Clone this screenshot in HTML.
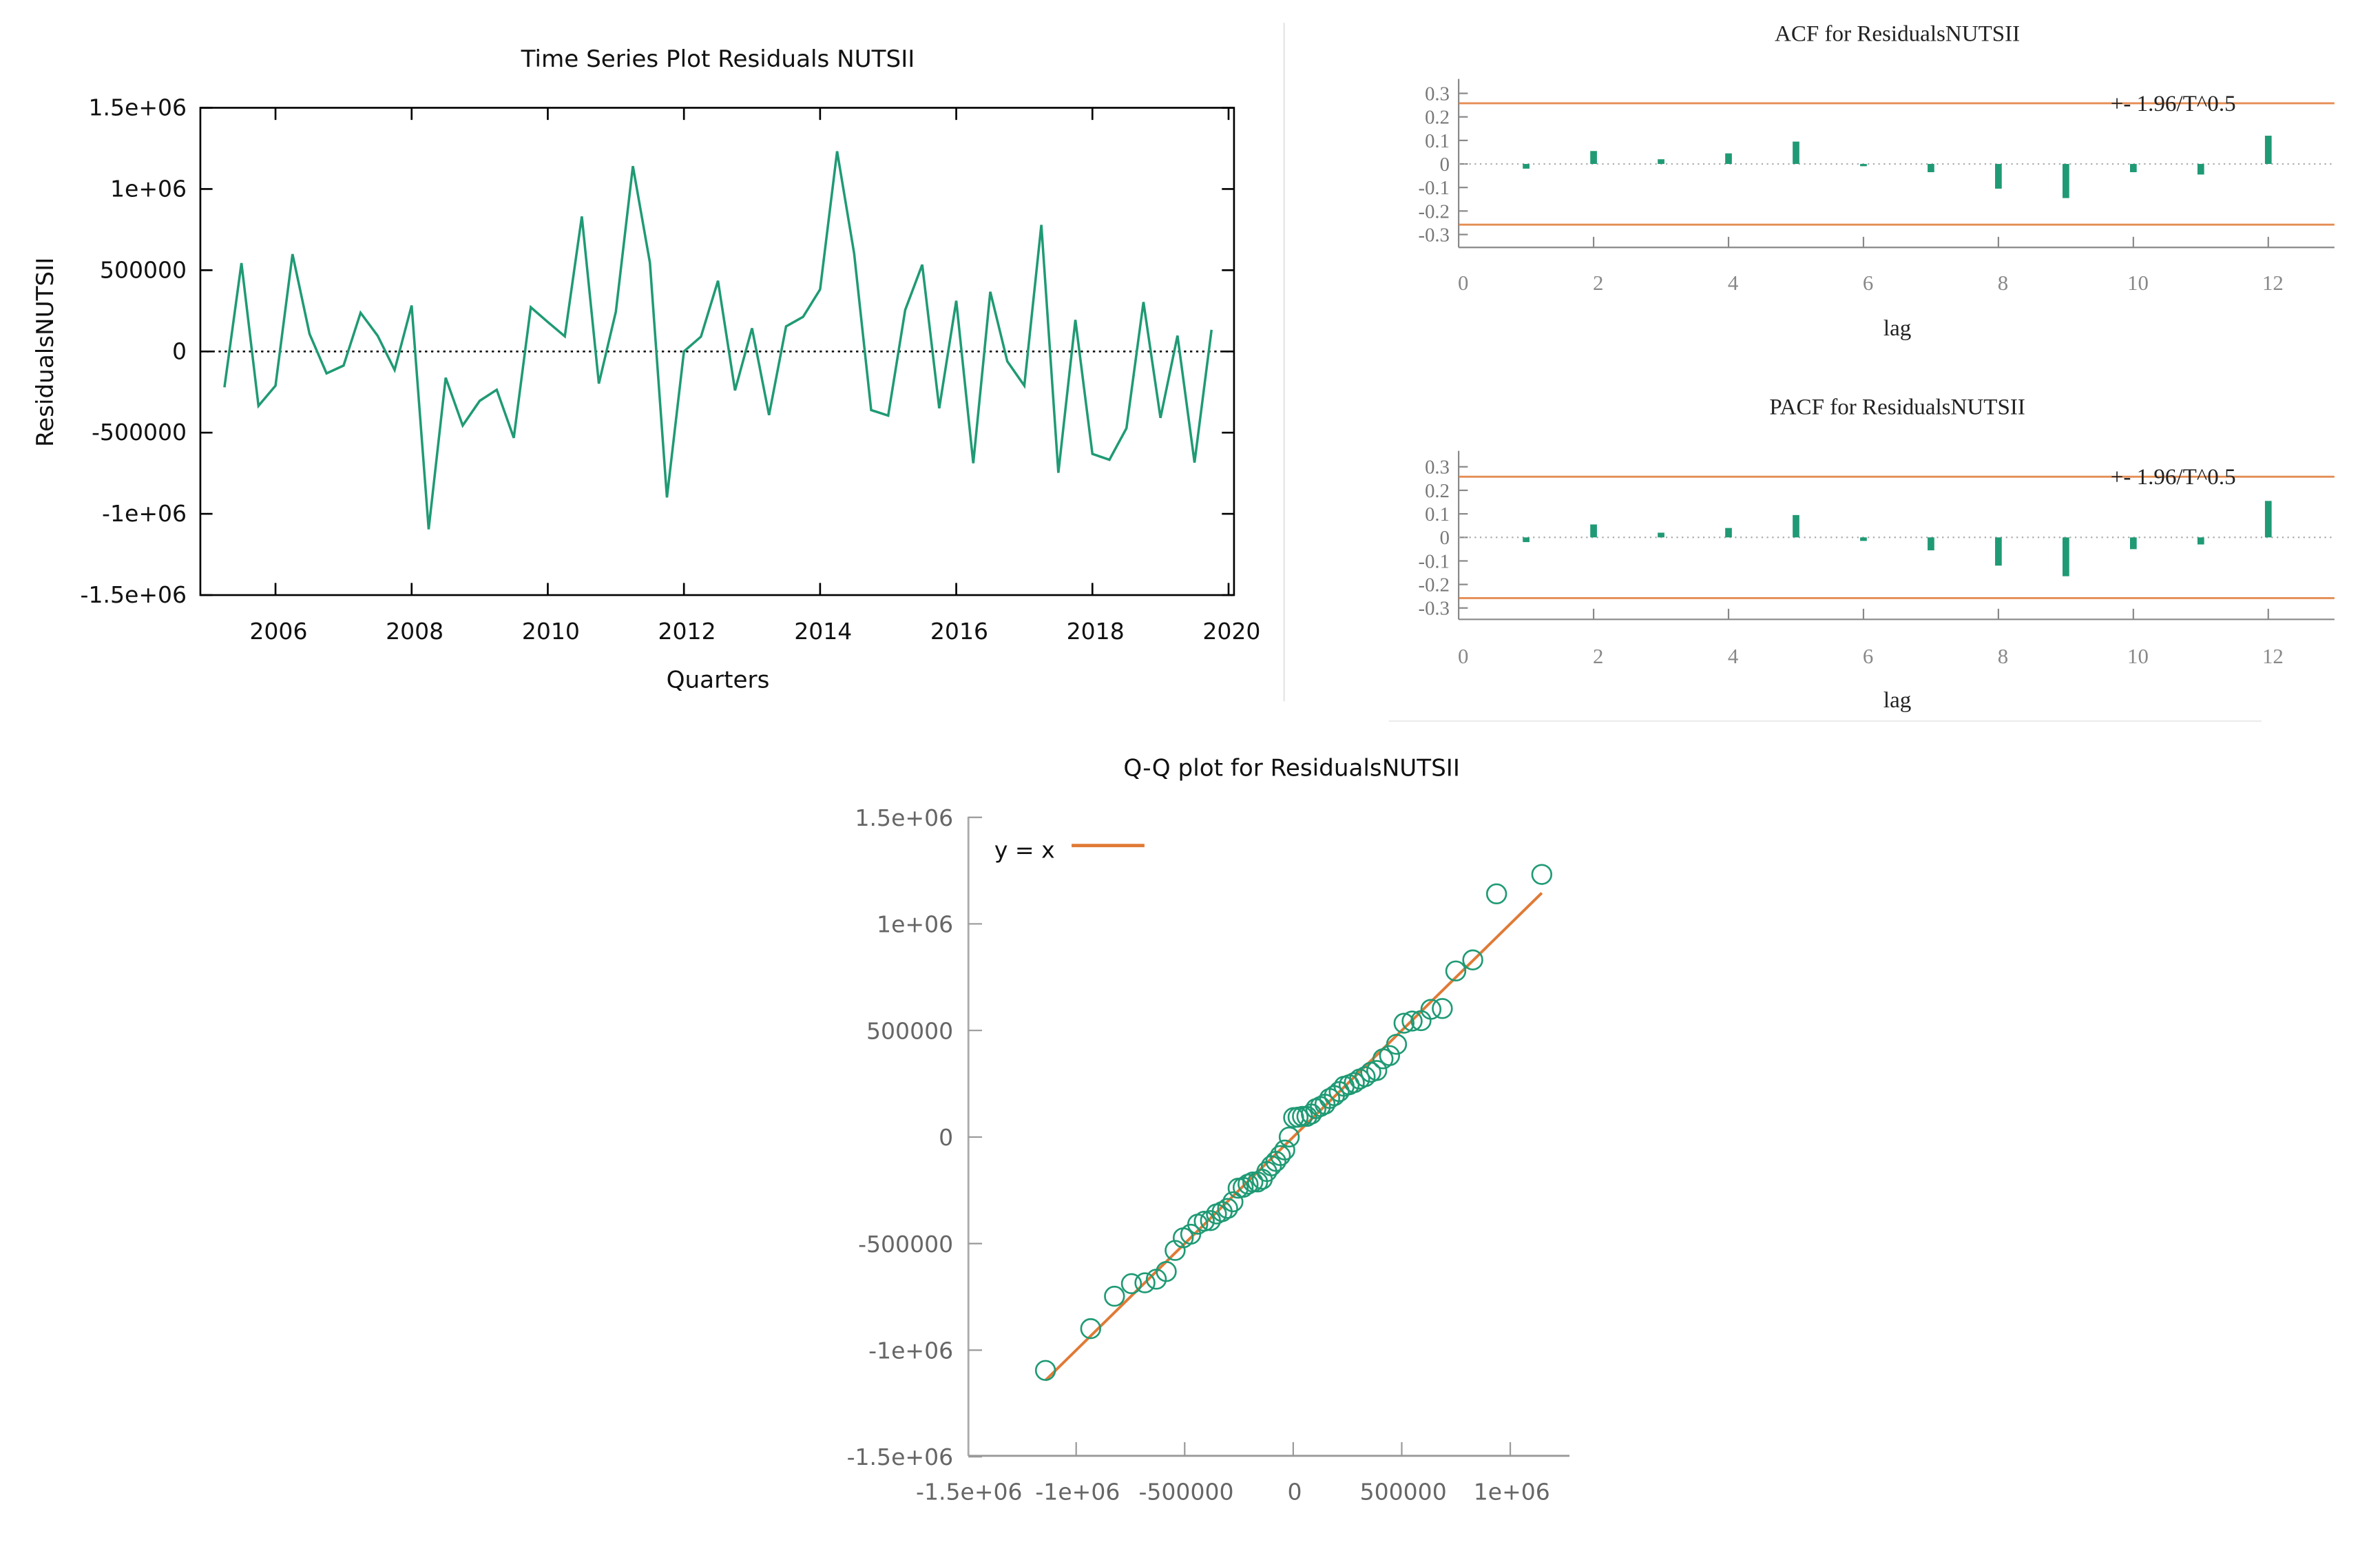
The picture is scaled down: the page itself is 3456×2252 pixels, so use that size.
<!DOCTYPE html>
<html><head><meta charset="utf-8"><style>
html,body{margin:0;padding:0;background:#fff;}
svg{display:block;}
.sans{font-family:"DejaVu Sans","Liberation Sans",sans-serif;}
.serif{font-family:"Liberation Serif","DejaVu Serif",serif;}
</style></head><body>
<svg id="root" width="3456" height="2252" viewBox="0 0 1568 1021.7" preserveAspectRatio="none" xmlns="http://www.w3.org/2000/svg">
<line x1="846" y1="15" x2="846" y2="462" stroke="#e4e4e4" stroke-width="1"/>
<line x1="915" y1="475" x2="1490" y2="475" stroke="#ececec" stroke-width="1"/>
<g id="ts"></g>
<g id="acf"></g>
<g id="pacf"></g>
<g id="qq"></g>
</svg>
<script>
const residuals = [-221000,544000,-335000,-211000,599000,108000,-135000,-87000,238000,97000,-114000,283000,-1095000,-162000,-456000,-304000,-236000,-532000,272000,181000,93000,831000,-198000,245000,1141000,546000,-899000,0,91000,435000,-240000,143000,-392000,154000,213000,382000,1232000,603000,-361000,-395000,255000,534000,-350000,312000,-688000,367000,-61000,-211000,779000,-747000,194000,-631000,-667000,-473000,304000,-409000,97000,-684000,133000];
const startYear = 2005.25;
const yearTicks = [2006,2008,2010,2012,2014,2016,2018,2020];
const valueTicks = [1500000,1000000,500000,0,-500000,-1000000,-1500000];
const valueTickLabels = ["1.5e+06","1e+06","500000","0","-500000","-1e+06","-1.5e+06"];
const lags = [1,2,3,4,5,6,7,8,9,10,11,12];
const acfValues = [-0.02,0.055,0.02,0.045,0.095,-0.005,-0.035,-0.105,-0.145,-0.035,-0.045,0.12];
const pacfValues = [-0.02,0.055,0.02,0.04,0.095,-0.015,-0.055,-0.12,-0.165,-0.05,-0.03,0.155];
const acfBand = 0.258;
const corrTicks = [0.3,0.2,0.1,0,-0.1,-0.2,-0.3];
const corrTickLabels = ["0.3","0.2","0.1","0","-0.1","-0.2","-0.3"];
const lagTicks = [0,2,4,6,8,10,12];
const qqXTicks = [-1500000,-1000000,-500000,0,500000,1000000];
const qqXTickLabels = ["-1.5e+06","-1e+06","-500000","0","500000","1e+06"];

const NS="http://www.w3.org/2000/svg";
function mk(parent,tag,attrs,text){const e=document.createElementNS(NS,tag);for(const k in attrs)e.setAttribute(k,attrs[k]);if(text!==undefined)e.textContent=text;parent.appendChild(e);return e;}
const GREEN="#1f9a74", ORANGE="#e07a36";

// ---------- Time series ----------
(function(){
const g=document.getElementById('ts');
const x=v=>181.5+(v-2006)*44.85;
const y=v=>231.5-v/1500000*160.5;
const L=132,R=813,T=71,B=392;
let t=mk(g,'text',{x:473,y:44,'text-anchor':'middle','font-size':15.5,class:'sans',fill:'#111'},'Time Series Plot Residuals NUTSII');

t=mk(g,'text',{x:35,y:232,'text-anchor':'middle','font-size':15.5,class:'sans',fill:'#111',transform:'rotate(-90 35 232)'},'ResidualsNUTSII');

t=mk(g,'text',{x:473,y:453,'text-anchor':'middle','font-size':15.5,class:'sans',fill:'#111'},'Quarters');

let r=mk(g,'rect',{x:L,y:T,width:R-L,height:B-T,fill:'none',stroke:'#000','stroke-width':1.2});

let z=mk(g,'line',{x1:L,x2:R,y1:y(0),y2:y(0),stroke:'#000','stroke-width':1.2,'stroke-dasharray':'1.5,2.5'});

valueTicks.forEach((v,i)=>{
  mk(g,'line',{x1:L,x2:L+8,y1:y(v),y2:y(v),stroke:'#000','stroke-width':1.2});
  mk(g,'line',{x1:R-8,x2:R,y1:y(v),y2:y(v),stroke:'#000','stroke-width':1.2});
  const tl=mk(g,'text',{x:123,y:y(v)+5,'text-anchor':'end','font-size':15,class:'sans',fill:'#111'},valueTickLabels[i]);
  
});
yearTicks.forEach(v=>{
  mk(g,'line',{x1:x(v),x2:x(v),y1:T,y2:T+8,stroke:'#000','stroke-width':1.2});
  mk(g,'line',{x1:x(v),x2:x(v),y1:B-8,y2:B,stroke:'#000','stroke-width':1.2});
  const tl=mk(g,'text',{x:x(v)+2,y:421,'text-anchor':'middle','font-size':15,class:'sans',fill:'#111'},String(v));
  
});
const pts=residuals.map((v,i)=>x(startYear+i*0.25).toFixed(2)+','+y(v).toFixed(2)).join(' ');
const pl=mk(g,'polyline',{points:pts,fill:'none',stroke:GREEN,'stroke-width':1.6,'stroke-linejoin':'miter'});

})();

// ---------- ACF / PACF ----------
function corrPlot(id,vals,zero,axisTop,axisBottom,title,titleY,tickLabelY,lagLabelY,lblPlus){
const g=document.getElementById(id);
const x=l=>961+l*44.45;
const y=v=>zero-v/0.1*15.5;
let t=mk(g,'text',{x:1250,y:titleY,'text-anchor':'middle','font-size':15,class:'serif',fill:'#222'},title);

mk(g,'line',{x1:961,x2:961,y1:axisTop,y2:axisBottom,stroke:'#888','stroke-width':1});
mk(g,'line',{x1:961,x2:1538,y1:axisBottom,y2:axisBottom,stroke:'#888','stroke-width':1});
corrTicks.forEach((v,i)=>{
  mk(g,'line',{x1:961,x2:967,y1:y(v),y2:y(v),stroke:'#888','stroke-width':1});
  const tl=mk(g,'text',{x:955,y:y(v)+4.5,'text-anchor':'end','font-size':13,class:'serif',fill:'#777'},corrTickLabels[i]);
  
});
lagTicks.forEach(l=>{
  if(l>0)mk(g,'line',{x1:x(l),x2:x(l),y1:axisBottom-7,y2:axisBottom,stroke:'#888','stroke-width':1});
  const tl=mk(g,'text',{x:x(l)+3,y:tickLabelY,'text-anchor':'middle','font-size':14,class:'serif',fill:'#888'},String(l));
  
});
t=mk(g,'text',{x:1250,y:lagLabelY,'text-anchor':'middle','font-size':15,class:'serif',fill:'#222'},'lag');

mk(g,'line',{x1:961,x2:1538,y1:zero,y2:zero,stroke:'#aaa','stroke-width':1,'stroke-dasharray':'1,2.5'});
[acfBand,-acfBand].forEach(b=>{
  const bl=mk(g,'line',{x1:961,x2:1538,y1:y(b),y2:y(b),stroke:ORANGE,'stroke-width':1.3,opacity:0.85});
  
});
t=mk(g,'text',{x:1473,y:y(acfBand)+5,'text-anchor':'end','font-size':15,class:'serif',fill:'#222'},lblPlus);

vals.forEach((v,i)=>{
  const yy=Math.min(y(v),zero),h=Math.max(Math.abs(y(v)-zero),1.5);
  const b=mk(g,'rect',{x:x(lags[i])-2.2,y:yy,width:4.4,height:h,fill:GREEN});
  
});
}
corrPlot('acf',acfValues,108,52,163,'ACF for ResidualsNUTSII',27,191,221,'+- 1.96/T^0.5');
corrPlot('pacf',pacfValues,354,297,408,'PACF for ResidualsNUTSII',273,437,466,'+- 1.96/T^0.5');

// ---------- Q-Q ----------
function invNorm(p){const a=[-39.69683028665376,220.9460984245205,-275.9285104469687,138.357751867269,-30.66479806614716,2.506628277459239],b=[-54.47609879822406,161.5858368580409,-155.6989798598866,66.80131188771972,-13.28068155288572],c=[-0.007784894002430293,-0.3223964580411365,-2.400758277161838,-2.549732539343734,4.374664141464968,2.938163982698783],d=[0.007784695709041462,0.3224671290700398,2.445134137142996,3.754408661907416];const pl=0.02425;let q,r;if(p<pl){q=Math.sqrt(-2*Math.log(p));return(((((c[0]*q+c[1])*q+c[2])*q+c[3])*q+c[4])*q+c[5])/((((d[0]*q+d[1])*q+d[2])*q+d[3])*q+1);}if(p<=1-pl){q=p-0.5;r=q*q;return(((((a[0]*r+a[1])*r+a[2])*r+a[3])*r+a[4])*r+a[5])*q/(((((b[0]*r+b[1])*r+b[2])*r+b[3])*r+b[4])*r+1);}q=Math.sqrt(-2*Math.log(1-p));return-(((((c[0]*q+c[1])*q+c[2])*q+c[3])*q+c[4])*q+c[5])/((((d[0]*q+d[1])*q+d[2])*q+d[3])*q+1);}
(function(){
const g=document.getElementById('qq');
const x=v=>852+v/500000*71.5;
const y=v=>749-v/500000*70.2;
const L=638,B=959,T=538,R=1034;
let t=mk(g,'text',{x:851,y:511,'text-anchor':'middle','font-size':15.5,class:'sans',fill:'#111'},'Q-Q plot for ResidualsNUTSII');

mk(g,'line',{x1:L,x2:L,y1:T,y2:B,stroke:'#aaa','stroke-width':1.3});
mk(g,'line',{x1:L,x2:R,y1:B,y2:B,stroke:'#999','stroke-width':1.3});
valueTicks.forEach((v,i)=>{
  mk(g,'line',{x1:L,x2:L+9,y1:y(v),y2:y(v),stroke:'#999','stroke-width':1});
  const tl=mk(g,'text',{x:628,y:y(v)+5.5,'text-anchor':'end','font-size':15,class:'sans',fill:'#666'},valueTickLabels[i]);
  
});
qqXTicks.forEach((v,i)=>{
  if(i>0)mk(g,'line',{x1:x(v),x2:x(v),y1:B-9,y2:B,stroke:'#999','stroke-width':1});
  const tl=mk(g,'text',{x:x(v)+1,y:988,'text-anchor':'middle','font-size':15,class:'sans',fill:'#666'},qqXTickLabels[i]);
  
});
const n=residuals.length,sorted=residuals.slice().sort((a,b)=>a-b);
const mean=residuals.reduce((s,v)=>s+v,0)/n;
const sd=Math.sqrt(residuals.reduce((s,v)=>s+(v-mean)*(v-mean),0)/(n-1));
const theo=sorted.map((v,i)=>mean+sd*invNorm((i+0.5)/n));
const ln=mk(g,'line',{x1:x(theo[0]),y1:y(theo[0]),x2:x(theo[n-1]),y2:y(theo[n-1]),stroke:ORANGE,'stroke-width':1.8});

sorted.forEach((v,i)=>{
  const c=mk(g,'circle',{cx:x(theo[i]),cy:y(v),r:6.3,fill:'none',stroke:GREEN,'stroke-width':1.2});
  
});
t=mk(g,'text',{x:675,y:565,'text-anchor':'middle','font-size':15,class:'sans',fill:'#111'},'y = x');

const lg=mk(g,'line',{x1:706,x2:754,y1:557,y2:557,stroke:ORANGE,'stroke-width':2.2});

})();
</script>
</body></html>
